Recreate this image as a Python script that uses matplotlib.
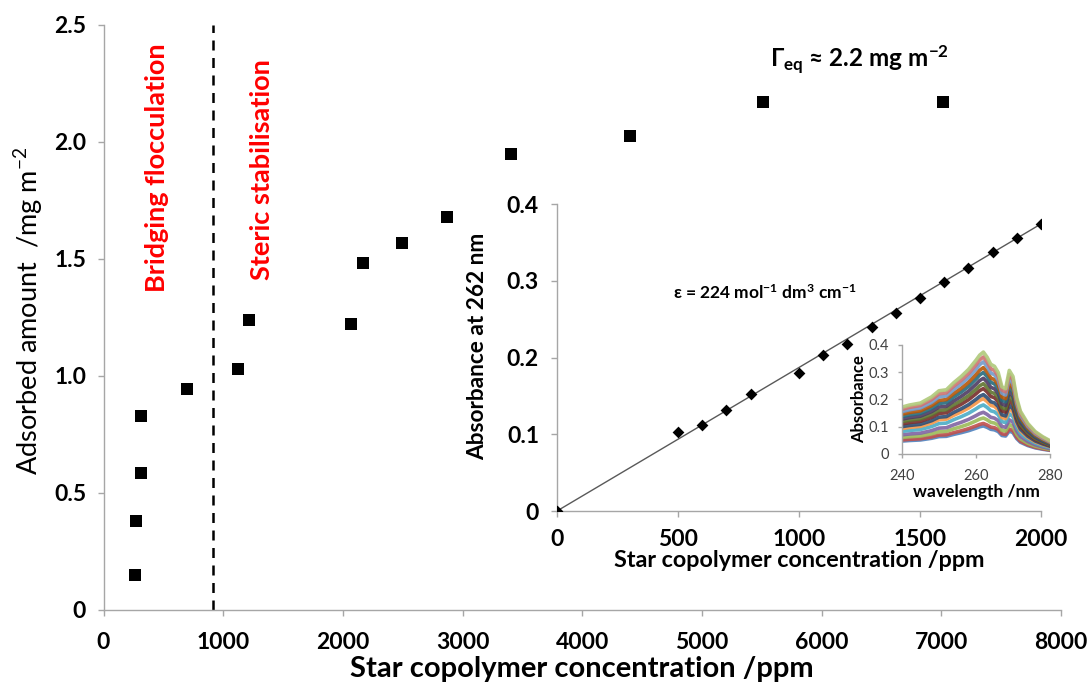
import matplotlib
matplotlib.use("Agg")
import matplotlib.pyplot as plt
import numpy as np

plt.rcParams['font.family'] = ['Lato', 'DejaVu Sans']
plt.rcParams['mathtext.default'] = 'regular'

# Adsorption isotherm
conc_ppm = [263, 271, 316, 316, 700, 1121, 1216, 2068, 2168, 2494, 2870, 3405, 4399, 5510, 7013]
adsorbed = [0.15, 0.38, 0.587, 0.828, 0.943, 1.031, 1.238, 1.221, 1.481, 1.570, 1.681, 1.949, 2.026, 2.170, 2.170]
boundary_ppm = 912
main_xticks = [0, 1000, 2000, 3000, 4000, 5000, 6000, 7000, 8000]
main_yticks = [0, 0.5, 1.0, 1.5, 2.0, 2.5]
main_ylabels = ['0', '0.5', '1.0', '1.5', '2.0', '2.5']

# Calibration curve at 262 nm
cal_conc = [0, 500, 600, 700, 800, 1000, 1100, 1200, 1300, 1400, 1500, 1600, 1700, 1800, 1900, 2000]
cal_abs = [0.0, 0.103, 0.112, 0.132, 0.153, 0.180, 0.203, 0.218, 0.240, 0.258, 0.278, 0.299, 0.317, 0.338, 0.356, 0.374]
fit_slope = 0.000187
cal_xticks = [0, 500, 1000, 1500, 2000]
abs_ticks = [0, 0.1, 0.2, 0.3, 0.4]
abs_labels = ['0', '0.1', '0.2', '0.3', '0.4']

# UV spectrum profile (relative to absorbance at 262 nm)
wavelength = [240, 242, 245, 248, 250, 252, 254, 256, 258, 260, 261, 262, 263, 264, 265, 266,
              267, 268, 269, 270, 271, 272, 274, 276, 278, 280]
profile = [0.46, 0.48, 0.50, 0.56, 0.62, 0.63, 0.70, 0.76, 0.83, 0.92, 0.97, 1.00, 0.95, 0.88,
           0.86, 0.80, 0.66, 0.64, 0.82, 0.76, 0.55, 0.42, 0.30, 0.22, 0.17, 0.13]
wl_ticks = [240, 260, 280]
series_colors = ['#4F81BD', '#C0504D', '#9BBB59', '#8064A2', '#4BACC6', '#F79646', '#2C4D75',
                 '#772C2A', '#5F7530', '#4D3B62', '#276A7C', '#B65708', '#729ACA', '#CD7371',
                 '#AFC97A']

fig = plt.figure(figsize=(10.9, 6.86), dpi=100)
spine_grey = '#A6A6A6'


def style_axes(ax, ticklen=4):
    for s in ('top', 'right'):
        ax.spines[s].set_visible(False)
    for s in ('left', 'bottom'):
        ax.spines[s].set_color(spine_grey)
        ax.spines[s].set_linewidth(1.0)
    ax.tick_params(direction='out', length=ticklen, width=1.0, color=spine_grey)


# Main axes
ax = fig.add_axes([0.095, 0.1108, 0.8784, 0.8528])
style_axes(ax)
ax.scatter(conc_ppm, adsorbed, marker='s', s=64, color='black', zorder=3, linewidths=0)
ax.axvline(boundary_ppm, ymin=0, ymax=1, color='black', linestyle=(0, (4, 3)), linewidth=1.8)
ax.set_xlim(0, 8000)
ax.set_ylim(0, 2.5)
ax.tick_params(axis='x', pad=12)
ax.tick_params(axis='y', pad=8.5)
ax.set_xticks(main_xticks, [str(v) for v in main_xticks], fontsize=16.5, fontweight='bold')
ax.set_yticks(main_yticks, main_ylabels, fontsize=16.5, fontweight='bold')
ax.set_xlabel('Star copolymer concentration /ppm', fontsize=21, fontweight='bold', labelpad=2)
ax.set_ylabel('Adsorbed amount  /mg m$^{-2}$', fontsize=19.5, va='center')
ax.yaxis.set_label_coords(-0.078, 0.511)

ax.text(447, 1.36, 'Bridging flocculation', rotation=90, color='#FF0000', fontsize=19.5,
        fontweight='bold', ha='center', va='bottom')
ax.text(1324, 1.41, 'Steric stabilisation', rotation=90, color='#FF0000', fontsize=19.5,
        fontweight='bold', ha='center', va='bottom')
ax.text(5568, 2.353, '$\\Gamma_{eq}$ \u2248 2.2 mg m$^{-2}$',
        fontsize=17.5, fontweight='bold', ha='left', va='center')

# Calibration inset
ins = fig.add_axes([0.511, 0.2551, 0.444, 0.4475])
ins.patch.set_alpha(0)
style_axes(ins)
xs = np.array([0, 2000])
ins.plot(xs, fit_slope * xs, color='#595959', linewidth=1.0, zorder=2)
ins.scatter(cal_conc, cal_abs, marker='D', s=36, color='black', zorder=3, linewidths=0)
ins.set_xlim(0, 2000)
ins.set_ylim(0, 0.4)
ins.tick_params(axis='x', pad=9)
ins.tick_params(axis='y', pad=9)
ins.set_xticks(cal_xticks, [str(v) for v in cal_xticks], fontsize=16.5, fontweight='bold')
ins.set_yticks(abs_ticks, abs_labels, fontsize=16.5, fontweight='bold')
ins.set_xlabel('Star copolymer concentration /ppm', fontsize=16.8, fontweight='bold', labelpad=0)
ins.set_ylabel('Absorbance at 262 nm', fontsize=16.3, fontweight='bold', va='center')
ins.yaxis.set_label_coords(-0.163, 0.535)
ins.text(860, 0.285, '\u03b5 = 224 mol$^{-1}$ dm$^{3}$ cm$^{-1}$',
         fontsize=12.5, fontweight='bold', ha='center', va='center')

# UV spectra inset
sp = fig.add_axes([0.8275, 0.3382, 0.1358, 0.1589])
sp.patch.set_alpha(0)
style_axes(sp, ticklen=3)
prof = np.array(profile)
for a262, col in zip(cal_abs[1:], series_colors):
    sp.plot(wavelength, a262 * prof, color=col, linewidth=2.6, alpha=0.9,
            solid_joinstyle='round')
sp.set_xlim(240, 280)
sp.set_ylim(0, 0.4)
sp.tick_params(axis='x', pad=8)
sp.tick_params(axis='y', pad=6)
sp.set_xticks(wl_ticks, [str(v) for v in wl_ticks], fontsize=10.5, color='#404040')
sp.set_yticks(abs_ticks, abs_labels, fontsize=10.5, color='#404040')
sp.set_xlabel('wavelength /nm', fontsize=12.5, fontweight='bold', va='center')
sp.xaxis.set_label_coords(0.5, -0.35)
sp.set_ylabel('Absorbance', fontsize=12, fontweight='bold', va='center')
sp.yaxis.set_label_coords(-0.29, 0.5)

fig.savefig('out.png', dpi=100, facecolor='white')
